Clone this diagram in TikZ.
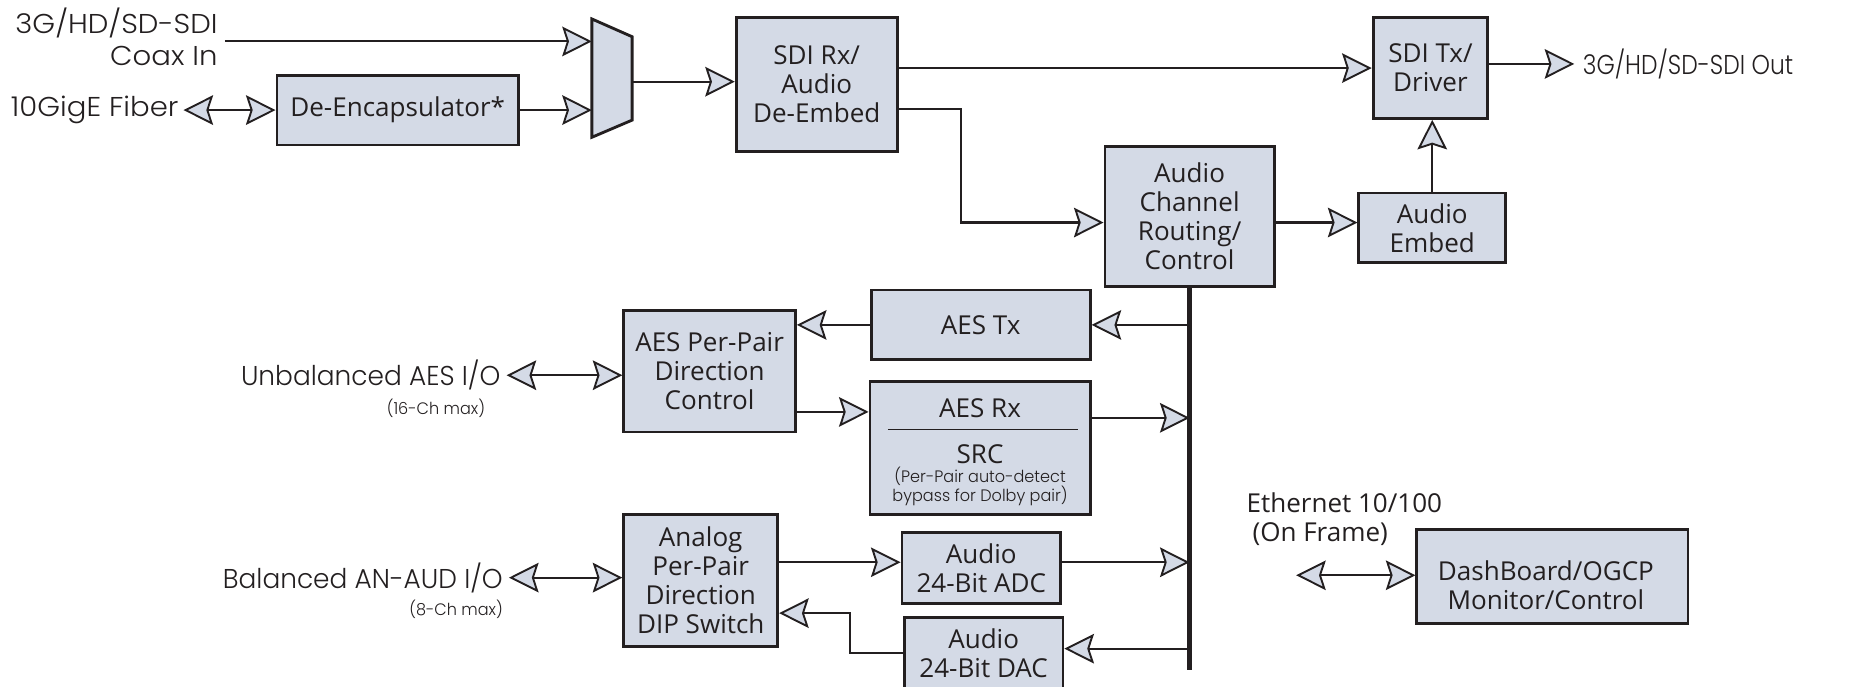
\documentclass[tikz,border=0pt]{standalone}
\usepackage{fontspec}
\setmainfont{Open Sans}
\IfFontExistsTF{Poppins Light}
  {\newfontfamily\geo[FakeStretch=0.97]{Poppins Light}\newfontfamily\geoc[FakeStretch=0.86]{Poppins Light}\newfontfamily\geow[FakeStretch=1.07]{Poppins Light}}
  {\newfontfamily\geo[FakeStretch=0.97]{Poppins}\newfontfamily\geoc[FakeStretch=0.86]{Poppins}\newfontfamily\geow[FakeStretch=1.07]{Poppins}}
\usetikzlibrary{arrows.meta}
\definecolor{ink}{HTML}{231F20}
\definecolor{boxfill}{HTML}{D4DAE6}
\tikzset{
  blk/.style={draw=ink, line width=2.4pt, fill=boxfill, inner sep=0pt, align=center,
    font=\fontsize{22}{24.5}\selectfont, text=ink},
  txt/.style={inner sep=0pt, align=center, font=\fontsize{22}{24.5}\selectfont, text=ink},
  conn/.style={draw=ink, line width=1.8pt},
  tipx/.tip={Stealth[length=25pt,width=25pt,inset=4pt,fill=boxfill,line width=1.6pt]},
  arr/.style={conn, -tipx},
  darr/.style={conn, tipx-tipx},
  bus/.style={draw=ink, line width=4.2pt},
  lab/.style={font=\geo\fontsize{23}{27}\selectfont, text=ink, inner sep=0pt},
  labw/.style={lab, font=\geow\fontsize{23}{27}\selectfont},
  small/.style={font=\geo\fontsize{14}{15.5}\selectfont, text=ink, inner sep=0pt},
}
\begin{document}
\begin{tikzpicture}[x=1pt,y=-1pt]
\useasboundingbox (0,0) rectangle (1568,580);

% ---- inputs and mux ----
\node[labw, anchor=east, align=right] (sdiin) at (184,31.5) {3G/HD/SD-SDI\\Coax In};
\coordinate (coaxstart) at (190,35);
\coordinate (mux1) at (500,35);
\coordinate (mux2) at (500,93);
\coordinate (muxo) at (534,69);
\draw[draw=ink, line width=2.4pt, fill=boxfill] (500,16) -- (534,31) -- (534,101.5) -- (500,116) -- cycle;

\node[labw, anchor=east] (fiber) at (151,93) {10GigE Fiber};
\node[blk, minimum width=204pt, minimum height=59pt] (deenc) at (336,93) {De-Encapsulator*};

\draw[arr] (coaxstart) -- (mux1);
\draw[darr] ([xshift=4pt]fiber.east) -- (deenc.west);
\draw[arr] (deenc.east) -- (mux2);

% ---- SDI path ----
\node[blk, minimum width=136pt, minimum height=113pt] (sdirx) at (690,71.5) {SDI Rx/\\Audio\\De-Embed};
\node[blk, minimum width=97pt, minimum height=85pt] (sditx) at (1208.5,57.5) {SDI Tx/\\Driver};
\coordinate (outend) at (1330,54);
\node[lab, font=\geoc\fontsize{23}{27}\selectfont, anchor=west] (sdiout) at (1337,54) {3G/HD/SD-SDI Out};

\draw[arr] (muxo) -- (muxo -| sdirx.west);
\draw[arr] (sdirx.east |- sditx.west) -- (sditx.west);
\draw[arr] (sditx.east |- outend) -- (outend);

% ---- audio routing ----
\node[blk, minimum width=143pt, minimum height=118pt] (acr) at (1005,183) {Audio\\Channel\\Routing/\\Control};
\node[blk, minimum width=124pt, minimum height=59pt] (aemb) at (1210,192.5) {Audio\\Embed};
\coordinate (bend1) at (812,92);
\coordinate (acrrow) at (0,188);
\draw[arr] (sdirx.east |- bend1) -- (bend1) |- (acr.west |- acrrow);
\draw[arr] (acr.east |- acrrow) -- (aemb.west |- acrrow);
\draw[arr] (aemb.north) -- (aemb.north |- sditx.south);

% ---- bus ----
\coordinate (busend) at (1005,566);
\draw[bus] (acr.south) -- (busend);

% ---- AES ----
\node[blk, minimum width=185pt, minimum height=59pt] (aestx) at (828.5,274.5) {AES Tx};
\node[blk, minimum width=145pt, minimum height=103pt] (aesdir) at (599.5,313.5) {AES Per-Pair\\Direction\\Control};
\node[blk, minimum width=186pt, minimum height=113pt] (aesrx) at (828,378.5) {};
\node[txt] (aesrxt) at (828,345) {AES Rx};
\draw[ink, line width=1.2pt] (750,363) -- (911,363);
\node[txt] (src) at (828,384) {SRC};
\node[small, align=center] (srcnote) at (828,411) {(Per-Pair auto-detect\\bypass for Dolby pair)};

\node[lab, anchor=east] (unbal) at (423,317) {Unbalanced AES I/O};
\node[small, anchor=east] (unbalch) at (410,345) {(16-Ch max)};

\coordinate (r1) at (0,348);
\coordinate (r2) at (0,353);
\draw[arr] (busend |- aestx.east) -- (aestx.east);
\draw[arr] (aestx.west) -- (aestx.west -| aesdir.east);
\draw[darr] ([xshift=5pt]unbal.east) -- (unbal.east -| aesdir.west);
\draw[arr] (aesdir.east |- r1) -- (aesrx.west |- r1);
\draw[arr] (aesrx.east |- r2) -- (busend |- r2);

% ---- analog ----
\node[blk, minimum width=130pt, minimum height=111pt] (anadir) at (592,490.5) {Analog\\Per-Pair\\Direction\\DIP Switch};
\node[lab, anchor=east] (bal) at (425,488) {Balanced AN-AUD I/O};
\node[small, anchor=east] (balch) at (425,515) {(8-Ch max)};
\node[blk, minimum width=134pt, minimum height=60pt] (adc) at (829,480) {Audio\\24-Bit ADC};
\node[blk, minimum width=134pt, minimum height=60pt] (dac) at (831,552) {Audio\\24-Bit DAC};

\coordinate (r3) at (0,475);
\coordinate (r4) at (0,548);
\coordinate (r5) at (0,552);
\coordinate (bend2) at (718,518);
\draw[darr] ([xshift=5pt]bal.east) -- (bal.east -| anadir.west);
\draw[arr] (anadir.east |- r3) -- (adc.west |- r3);
\draw[arr] (adc.east |- r3) -- (busend |- r3);
\draw[arr] (busend |- r4) -- (dac.east |- r4);
\draw[arr] (dac.west |- r5) -| (bend2) -- (anadir.east |- bend2);

% ---- control ----
\node[txt, anchor=west, align=left] (eth) at (1053,439) {Ethernet 10/100\\\hspace*{5pt}(On Frame)};
\node[blk, minimum width=229pt, minimum height=80pt] (dash) at (1311.5,487) {};
\node[txt] (dashtxt) at (1306,494) {DashBoard/OGCP\\Monitor/Control};
\coordinate (ethend) at (1095,486);
\draw[darr] (ethend) -- (dash.west |- ethend);
\end{tikzpicture}
\end{document}
